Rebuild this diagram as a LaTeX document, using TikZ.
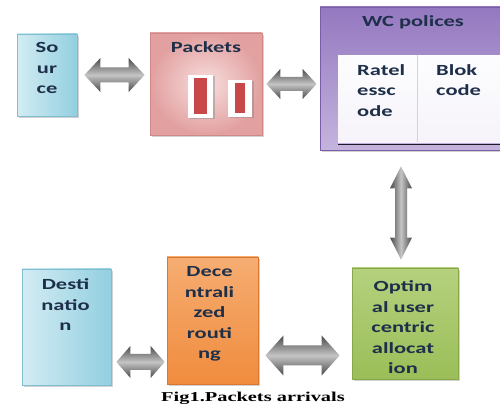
\documentclass[tikz,border=0pt]{standalone}
\usepackage{fontspec}
\usetikzlibrary{calc,shadows}
\newfontfamily\boxfont{Carlito}[FakeStretch=1.45]
\newfontfamily\capfont{Liberation Serif}[FakeStretch=1.5]
\definecolor{txt}{HTML}{1E2F4A}
\definecolor{srcL}{HTML}{D3ECF3}\definecolor{srcR}{HTML}{92CFE0}\definecolor{srcB}{HTML}{7FBDD0}
\definecolor{pkI}{HTML}{F8DEDE}\definecolor{pkO}{HTML}{E2A0A0}\definecolor{pkB}{HTML}{D08888}
\definecolor{wcT}{HTML}{9478C0}\definecolor{wcB}{HTML}{C4B4DD}\definecolor{wcE}{HTML}{7A5CA8}
\definecolor{decT}{HTML}{F6AD72}\definecolor{decM}{HTML}{F08C3E}\definecolor{decB}{HTML}{D9782E}
\definecolor{optT}{HTML}{B5D17E}\definecolor{optB}{HTML}{9BBE58}\definecolor{optE}{HTML}{86A84A}
\definecolor{redbar}{HTML}{C8484A}
\definecolor{arD}{HTML}{4A4A4A}\definecolor{arL}{HTML}{C4C4C4}
\tikzset{
  box/.style={draw, line width=0.8pt, inner sep=0pt,
    drop shadow={shadow xshift=2pt, shadow yshift=-2pt, opacity=0.35}},
  lbl/.style={anchor=north, inner sep=0pt, align=center, text=txt,
    font=\boxfont\bfseries\fontsize{15.5}{20.5}\selectfont},
  lbll/.style={lbl, anchor=north west, align=left},
  hshade/.style={top color=arD, bottom color=arD, middle color=arL},
  vshade/.style={left color=arD, right color=arD, middle color=arL},
  slot/.style={fill=white, inner sep=0pt,
    drop shadow={shadow xshift=1.5pt, shadow yshift=-1.5pt, opacity=0.4}},
}
% horizontal fat double arrow: #1 start, #2 end, #3 shaft half, #4 head half, #5 head length
\newcommand\hfat[5]{%
  \shade[hshade] let \p1=(#1), \p2=(#2) in
    (\x1,\y1) -- (\x1+#5,\y1+#4) -- (\x1+#5,\y1+#3) -- (\x2-#5,\y2+#3)
    -- (\x2-#5,\y2+#4) -- (\x2,\y2) -- (\x2-#5,\y2-#4) -- (\x2-#5,\y2-#3)
    -- (\x1+#5,\y1-#3) -- (\x1+#5,\y1-#4) -- cycle;}
% vertical fat double arrow: #1 bottom, #2 top
\newcommand\vfat[5]{%
  \shade[vshade] let \p1=(#1), \p2=(#2) in
    (\x1,\y1) -- (\x1+#4,\y1+#5) -- (\x1+#3,\y1+#5) -- (\x2+#3,\y2-#5)
    -- (\x2+#4,\y2-#5) -- (\x2,\y2) -- (\x2-#4,\y2-#5) -- (\x2-#3,\y2-#5)
    -- (\x1-#3,\y1+#5) -- (\x1-#4,\y1+#5) -- cycle;}
\begin{document}
\begin{tikzpicture}[x=1pt,y=1pt]
\clip (0,0) rectangle (500,406);
\fill[white] (0,0) rectangle (500,406);

% boxes
\node[box, draw=srcB, left color=srcL, right color=srcR, minimum width=60pt, minimum height=82pt] (src) at (47,331) {};
\node[box, draw=pkB, inner color=pkI, outer color=pkO, minimum width=112pt, minimum height=102pt] (pk) at (206,322) {};
\node[box, draw=wcE, top color=wcT, bottom color=wcB, minimum width=184pt, minimum height=143pt] (wc) at (412,327.5) {};
\node[draw=none, inner sep=0pt, top color=white!96!wcB, bottom color=white!85!wcB, minimum width=164pt, minimum height=87pt, anchor=north west] (cells) at (338,351) {};
\node[box, draw=optE, top color=optT, bottom color=optB, minimum width=106pt, minimum height=111pt] (opt) at (405,82.5) {};
\node[box, draw=decB, top color=decT, bottom color=decM, minimum width=91pt, minimum height=127pt] (dec) at (212.5,85.5) {};
\node[box, draw=srcB, left color=srcL, right color=srcR, minimum width=89pt, minimum height=116pt] (dst) at (66.5,79) {};

% inner details of WC cells
\draw[white!70!wcE, line width=0.8pt] (cells.north west) ++(79,0) coordinate (cdiv) -- (cdiv |- cells.south);
\draw[black!75!wcE, line width=1.2pt] ([yshift=-2pt]cells.south west) -- ([yshift=-2pt]cells.south east);

% packet slots
\node[slot, minimum width=25pt, minimum height=43pt] (s1) at (200.5,309.5) {};
\node[fill=redbar, inner sep=0pt, minimum width=12.5pt, minimum height=36pt] (r1) at (s1) {};
\node[slot, minimum width=24pt, minimum height=37pt] (s2) at (240,307.5) {};
\node[fill=redbar, inner sep=0pt, minimum width=9.5pt, minimum height=30pt] (r2) at (s2) {};

% texts
\node[lbl] (tsrc) at ($(src.north)+(0,-9)$) {So\\ur\\ce};
\node[lbl] (tpk) at ($(pk.north)+(0,-9)$) {Packets};
\node[lbl] (twc) at (413,391) {WC polices};
\node[lbll] (tr) at (357,342) {Ratel\\essc\\ode};
\node[lbll] (tb) at (436,342) {Blok\\code};
\node[lbl] (tdst) at ($(dst.north)+(-1,-10)$) {Desti\\natio\\n};
\node[lbl] (tdec) at ($(dec.north)+(-3,-10)$) {Dece\\ntrali\\zed\\routi\\ng};
\node[lbl] (topt) at ($(opt.north)+(-2,-13)$) {Optim\\al user\\centric\\allocat\\ion};

% fat arrows
\coordinate (a1s) at ([xshift=7pt]src.east);
\coordinate (a1e) at ($(pk.west |- a1s)+(-5,0)$);
\hfat{a1s}{a1e}{7.5pt}{17pt}{16pt}
\coordinate (a2s) at ([xshift=4pt]pk.east);
\coordinate (a2e) at ($(wc.west |- a2s)+(-3,0)$);
\hfat{a2s}{a2e}{7pt}{15pt}{14pt}
\coordinate (v1) at ($(opt.north)+(-4,8)$);
\coordinate (v2) at ($(v1 |- wc.south)+(0,-16)$);
\vfat{v1}{v2}{6pt}{11pt}{22pt}
\coordinate (b1s) at ($(dec.east |- 0,50.5)+(7,0)$);
\coordinate (b1e) at ($(opt.west |- b1s)+(-12,0)$);
\hfat{b1s}{b1e}{10pt}{20pt}{18pt}
\coordinate (b2s) at ($(dst.east |- 0,44)+(5,0)$);
\coordinate (b2e) at ($(dec.west |- b2s)+(-2,0)$);
\hfat{b2s}{b2e}{8pt}{16pt}{14pt}

% caption
\node[inner sep=0pt, anchor=base, font=\capfont\bfseries\fontsize{13.6}{16}\selectfont] (cap) at (253,4) {Fig1.Packets arrivals};
\end{tikzpicture}
\end{document}
